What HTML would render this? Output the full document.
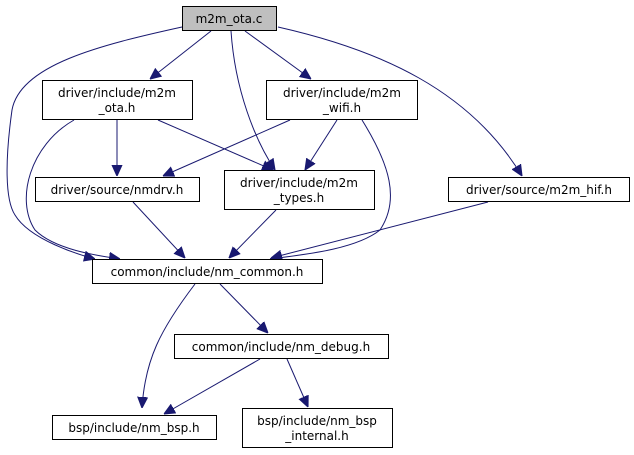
<!DOCTYPE html>
<html><head><style>body{margin:0;background:#fff}svg{display:block}text{font-family:"DejaVu Sans","Liberation Sans",sans-serif;font-size:12px;fill:#000;text-anchor:middle}</style></head><body>
<svg width="634" height="455" viewBox="0 0 634 455" xmlns="http://www.w3.org/2000/svg">
<defs><marker id="a" viewBox="0 0 10 10" refX="10" refY="5" markerWidth="11" markerHeight="11" markerUnits="userSpaceOnUse" orient="auto"><path d="M0,0.5 L10,5 L0,9.5 z" fill="#191970" stroke="#191970"/></marker></defs>
<g fill="none" stroke="#191970" stroke-width="1" marker-end="url(#a)">
<path d="M211,31 L150,79"/>
<path d="M245,31 L311,79"/>
<path d="M231,31 C235,90 255,140 275,170"/>
<path d="M278,27 C380,50 470,90 522,176"/>
<path d="M182,27 C100,45 20,65 12,110 C5,160 5,200 15,215 C30,240 80,255 95,259"/>
<path d="M117,120 L117,176"/>
<path d="M158,120 L273,170"/>
<path d="M74,120 C30,145 15,200 35,230 C55,250 100,256 120,259"/>
<path d="M290,120 L163,176"/>
<path d="M337,120 L305,170"/>
<path d="M362,120 C390,165 400,200 380,230 C355,250 300,255 270,259"/>
<path d="M133,202 L185,258"/>
<path d="M276,210 L229,258"/>
<path d="M488,202 L271,258"/>
<path d="M220,284 L268,333"/>
<path d="M195,284 C160,330 145,360 142,408"/>
<path d="M260,359 L164,414"/>
<path d="M287,359 L308,407"/>
</g>
<g stroke="#000" stroke-width="1">
<rect x="182.5" y="6.5" width="94" height="24" fill="#bfbfbf"/>
<rect x="42.5" y="80.5" width="150" height="39" fill="#fff"/>
<rect x="266.5" y="80.5" width="151" height="39" fill="#fff"/>
<rect x="35.5" y="177.5" width="164" height="24" fill="#fff"/>
<rect x="224.5" y="170.5" width="150" height="39" fill="#fff"/>
<rect x="448.5" y="177.5" width="181" height="24" fill="#fff"/>
<rect x="92.5" y="259.5" width="230" height="24" fill="#fff"/>
<rect x="174.5" y="334.5" width="214" height="24" fill="#fff"/>
<rect x="52.5" y="415.5" width="164" height="24" fill="#fff"/>
<rect x="242.5" y="408.5" width="150" height="39" fill="#fff"/>
</g>
<text x="229" y="23">m2m_ota.c</text>
<text x="117" y="97">driver/include/m2m</text><text x="117" y="112">_ota.h</text>
<text x="342" y="97">driver/include/m2m</text><text x="342" y="112">_wifi.h</text>
<text x="117" y="194">driver/source/nmdrv.h</text>
<text x="299" y="187">driver/include/m2m</text><text x="299" y="202">_types.h</text>
<text x="539" y="194">driver/source/m2m_hif.h</text>
<text x="207" y="276">common/include/nm_common.h</text>
<text x="281" y="351">common/include/nm_debug.h</text>
<text x="134" y="432">bsp/include/nm_bsp.h</text>
<text x="317" y="425">bsp/include/nm_bsp</text><text x="317" y="440">_internal.h</text>
</svg>
</body></html>
